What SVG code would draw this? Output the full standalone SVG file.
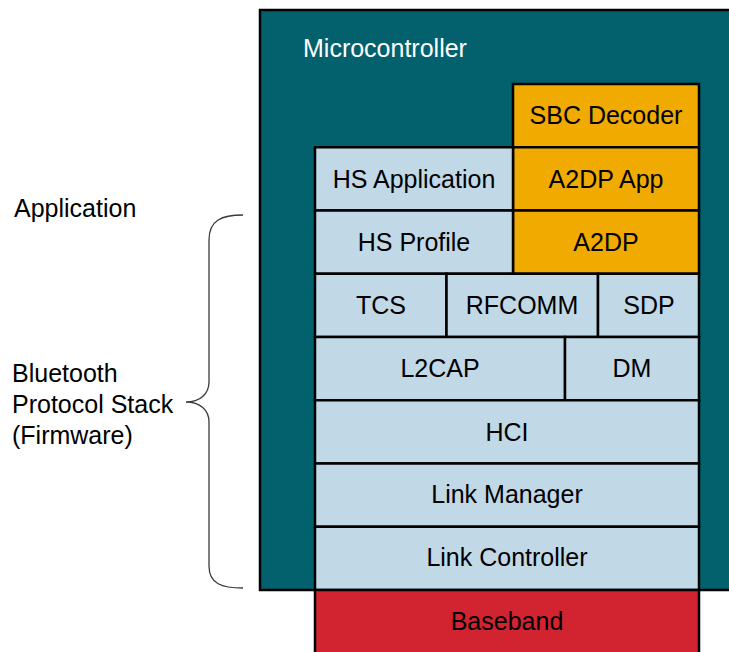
<svg xmlns="http://www.w3.org/2000/svg" width="729" height="652" viewBox="0 0 729 652">
  <style>
    text { font-family: "Liberation Sans", Arial, sans-serif; font-size: 25px; fill: #000; }
    .mid { text-anchor: middle; }
    .layer { fill: #C1D8E7; stroke: #000; stroke-width: 2.5; }
    .audio { fill: #F0AA00; stroke: #000; stroke-width: 2.5; }
    .radio { fill: #D22331; stroke: #000; stroke-width: 2.5; }
    .brace { fill: none; stroke: #3a3a3a; stroke-width: 1.3; }
  </style>

  <!-- Microcontroller container -->
  <g id="microcontroller">
    <rect x="260" y="10" width="490" height="580" fill="#02616D" stroke="#000" stroke-width="2.5"/>
    <text x="303" y="57" style="fill:#fff">Microcontroller</text>
  </g>

  <!-- Audio profile column -->
  <g id="sbc-decoder">
    <rect class="audio" x="513" y="84" width="186" height="63.25"/>
    <text class="mid" x="606" y="124">SBC Decoder</text>
  </g>
  <g id="a2dp-app">
    <rect class="audio" x="513" y="147.25" width="186" height="63.25"/>
    <text class="mid" x="606" y="188">A2DP App</text>
  </g>
  <g id="a2dp">
    <rect class="audio" x="513" y="210.5" width="186" height="63.25"/>
    <text class="mid" x="606" y="251">A2DP</text>
  </g>

  <!-- Headset profile column -->
  <g id="hs-application">
    <rect class="layer" x="315" y="147.25" width="198" height="63.25"/>
    <text class="mid" x="414" y="188">HS Application</text>
  </g>
  <g id="hs-profile">
    <rect class="layer" x="315" y="210.5" width="198" height="63.25"/>
    <text class="mid" x="414" y="251">HS Profile</text>
  </g>

  <!-- Protocol layers -->
  <g id="tcs">
    <rect class="layer" x="315" y="273.75" width="131.5" height="63.25"/>
    <text class="mid" x="381" y="314">TCS</text>
  </g>
  <g id="rfcomm">
    <rect class="layer" x="446.5" y="273.75" width="151.5" height="63.25"/>
    <text class="mid" x="522" y="314">RFCOMM</text>
  </g>
  <g id="sdp">
    <rect class="layer" x="598" y="273.75" width="101" height="63.25"/>
    <text class="mid" x="649" y="314">SDP</text>
  </g>
  <g id="l2cap">
    <rect class="layer" x="315" y="337" width="250" height="63.25"/>
    <text class="mid" x="440" y="377">L2CAP</text>
  </g>
  <g id="dm">
    <rect class="layer" x="565" y="337" width="134" height="63.25"/>
    <text class="mid" x="632" y="377">DM</text>
  </g>
  <g id="hci">
    <rect class="layer" x="315" y="400.25" width="384" height="63.25"/>
    <text class="mid" x="507" y="441">HCI</text>
  </g>
  <g id="link-manager">
    <rect class="layer" x="315" y="463.5" width="384" height="63.25"/>
    <text class="mid" x="507" y="503">Link Manager</text>
  </g>
  <g id="link-controller">
    <rect class="layer" x="315" y="526.75" width="384" height="63.25"/>
    <text class="mid" x="507" y="566">Link Controller</text>
  </g>

  <!-- Radio baseband below the controller -->
  <g id="baseband">
    <rect class="radio" x="315" y="590" width="384" height="80"/>
    <text class="mid" x="507" y="630">Baseband</text>
  </g>

  <!-- Side labels -->
  <g id="label-application">
    <text x="14" y="217">Application</text>
  </g>
  <g id="label-stack">
    <text x="12" y="382">Bluetooth</text>
    <text x="12" y="413">Protocol Stack</text>
    <text x="12" y="444">(Firmware)</text>
  </g>

  <!-- Brace grouping the protocol stack -->
  <g id="connectors">
    <path class="brace" d="M243,215 C222,215 209,220 209,240 L209,382 C209,394 200,402 186,402 C200,402 209,410 209,422 L209,566 C209,584 222,588 243,588"/>
  </g>
</svg>
